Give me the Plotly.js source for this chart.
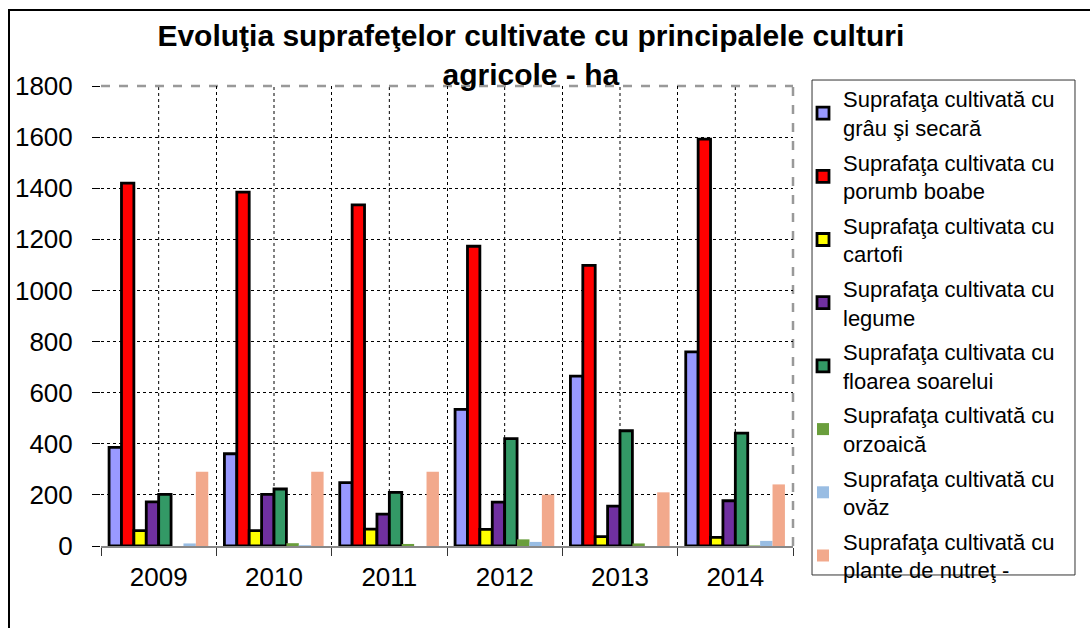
<!DOCTYPE html>
<html>
<head>
<meta charset="utf-8">
<script src="https://cdn.plot.ly/plotly-3.0.1.min.js"></script>
<style>
html,body{margin:0;padding:0;background:#fff;overflow:hidden;}
#wrap{position:relative;width:1090px;height:628px;}
#chart{width:1090px;height:628px;}
#frame{position:absolute;left:8px;top:9px;width:1200px;height:700px;border:2px solid #000;pointer-events:none;}
</style>
</head>
<body>
<div id="wrap"><div id="chart"></div><div id="frame"></div></div>
<script>
const years = ['2009','2010','2011','2012','2013','2014'];
const grau = [386, 361, 248, 535, 665, 760];
const porumb = [1420, 1385, 1335, 1173, 1098, 1592];
const cartofi = [60, 60, 66, 65, 37, 34];
const legume = [173, 202, 125, 172, 156, 177];
const floarea = [202, 223, 210, 420, 451, 442];
const orzoaica = [0, 11, 8, 26, 10, 2];
const ovaz = [10, 3, 0, 16, 0, 20];
const nutret = [291, 291, 291, 201, 210, 241];

const seriesNames = [
  'Suprafaţa cultivată cu<br>grâu şi secară',
  'Suprafaţa cultivata cu<br>porumb boabe',
  'Suprafaţa cultivata cu<br>cartofi',
  'Suprafaţa cultivata cu<br>legume',
  'Suprafaţa cultivata cu<br>floarea soarelui',
  'Suprafaţa cultivată cu<br>orzoaică',
  'Suprafaţa cultivată cu<br>ovăz',
  'Suprafaţa cultivată cu<br>plante de nutreţ -'
];
const seriesValues = [grau, porumb, cartofi, legume, floarea, orzoaica, ovaz, nutret];
const colors = ['#9999FF','#FF0000','#FFFF00','#7030A0','#339966','#6A9E3C','#99BDE3','#F2A98C'];
const outlined = [true,true,true,true,true,false,false,false];

const traces = seriesValues.map((vals, i) => ({
  type: 'bar',
  x: years,
  y: vals,
  name: seriesNames[i],
  legendgroup: 'g' + i,
  marker: {
    color: colors[i],
    line: {color: outlined[i] ? '#000' : colors[i], width: outlined[i] ? 2.8 : 0}
  },
  hoverinfo: 'x+y'
}));

// mid-category vertical dotted grid lines (category index positions)
const shapes = years.map((c, i) => ({
  type: 'line', xref: 'x', yref: 'paper', x0: i, x1: i, y0: 0, y1: 1,
  line: {color: '#000', width: 1, dash: 'dot'}, layer: 'below'
}));
// plot-area border: gray dashed top and right
shapes.push({
  type: 'line', xref: 'paper', yref: 'paper', x0: 0, x1: 1, y0: 1, y1: 1,
  line: {color: '#999', width: 2.5, dash: 'dash'}, layer: 'between'
});
shapes.push({
  type: 'line', xref: 'paper', yref: 'paper', x0: 1, x1: 1, y0: 0, y1: 1,
  line: {color: '#999', width: 2.5, dash: 'dash'}, layer: 'between'
});
// legend box
shapes.push({
  type: 'rect', xref: 'paper', yref: 'paper', x0: 1.0275, x1: 1.4075, y0: -0.063, y1: 1.013,
  line: {color: '#333', width: 1}, fillcolor: 'rgba(0,0,0,0)', layer: 'above'
});

const layout = {
  width: 1090, height: 628,
  margin: {l: 101, r: 297, t: 86, b: 82},
  paper_bgcolor: '#fff', plot_bgcolor: '#fff',
  font: {family: 'Liberation Sans, Arial, sans-serif', color: '#000'},
  title: {
    text: '<b>Evoluţia suprafeţelor cultivate cu principalele culturi<br>agricole - ha</b>',
    font: {size: 30, family: 'Liberation Sans, Arial, sans-serif', color: '#000'},
    xref: 'container', yref: 'container', x: 0.487, xanchor: 'center',
    y: 1 - 46/628, yanchor: 'top'
  },
  barmode: 'group', bargap: 0.14, bargroupgap: 0,
  xaxis: {
    type: 'category', tickson: 'boundaries',
    showgrid: true, gridcolor: '#000', griddash: 'dot', gridwidth: 1,
    showline: true, linecolor: '#888', linewidth: 1.5,
    ticks: 'outside', ticklen: 8, tickcolor: '#333', tickwidth: 1,
    tickfont: {size: 26}, ticklabelstandoff: 7, tickangle: 0,
    zeroline: false, fixedrange: true
  },
  yaxis: {
    range: [0, 1800], dtick: 200, tick0: 0,
    showgrid: true, gridcolor: '#000', griddash: 'dot', gridwidth: 1,
    showline: false, zeroline: false,
    ticks: 'outside', ticklen: 8, tickcolor: '#000', tickwidth: 1,
    tickfont: {size: 26}, ticklabelstandoff: 14, fixedrange: true
  },
  legend: {
    x: (803-101)/692, xanchor: 'left', y: 1.0174, yanchor: 'top',
    borderwidth: 0, bgcolor: 'rgba(0,0,0,0)',
    font: {size: 22, color: '#000'},
    traceorder: 'grouped', tracegroupgap: 3,
    itemwidth: 30, maxheight: 620
  },
  shapes: shapes,
  showlegend: true
};

Plotly.newPlot('chart', traces, layout, {displayModeBar: false, staticPlot: true});
</script>
</body>
</html>
